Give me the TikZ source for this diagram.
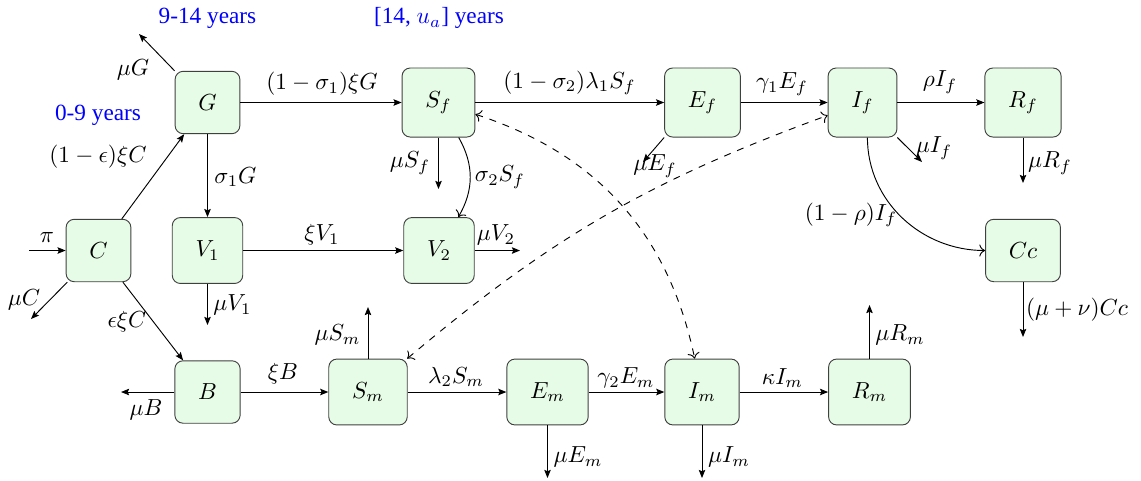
\documentclass[tikz,border=0pt]{standalone}
\usepackage[no-math]{fontspec}
\newfontfamily\timesf{Liberation Serif}
\usetikzlibrary{arrows.meta}
\definecolor{boxfill}{RGB}{230,252,230}
\begin{document}
\begin{tikzpicture}[x=0.43pt,y=-0.43pt,
  box/.style={draw=black!75, fill=boxfill, rounded corners=3.5pt, inner sep=10pt},
  arr/.style={-{Stealth[length=3.5pt,width=2.8pt,inset=0.6pt]}},
  curv/.style={->},
  dsh/.style={<->, dashed},
  lbl/.style={inner sep=0pt},
  age/.style={text=blue, font=\timesf, inner sep=0pt}]
\useasboundingbox (0,0) rectangle (1141,480);

% compartments
\node[box] (C)  at (98.5,250.5) {$C$};
\node[box] (G)  at (207.5,102.5) {$G$};
\node[box] (V1) at (207.5,250.5) {$V_1$};
\node[box] (B)  at (207.5,392) {$B$};
\node[box] (Sf) at (438.5,102.5) {$S_f$};
\node[box] (V2) at (439,250.5) {$V_2$};
\node[box] (Sm) at (368,392) {$S_m$};
\node[box] (Ef) at (702.5,102.5) {$E_f$};
\node[box] (Em) at (547.5,392) {$E_m$};
\node[box] (If) at (862.5,102.5) {$I_f$};
\node[box] (Im) at (702,392) {$I_m$};
\node[box] (Rf) at (1023,102.5) {$R_f$};
\node[box] (Cc) at (1023,250.5) {$Cc$};
\node[box] (Rm) at (869.5,392) {$R_m$};

% age groups
\node[age] (a09)  at (98,115) {0-9 years};
\node[age] (a914) at (207.5,18) {9-14 years};
\node[age] (a14)  at (439,18) {[14, $u_a$] years};

% free ends
\coordinate (piS)   at (29,250.5);
\coordinate (muCe)  at (31,319);
\coordinate (muGe)  at (139,34);
\coordinate (muV1e) at (207.5,325);
\coordinate (muSfe) at (438.5,189);
\coordinate (muV2e) at (520,250.5);
\coordinate (muEfe) at (643,162);
\coordinate (muIfe) at (922,162);
\coordinate (muRfe) at (1023,183);
\coordinate (muCce) at (1023,337);
\coordinate (muRme) at (869.5,305);
\coordinate (muEme) at (547.5,478);
\coordinate (muIme) at (702,478);
\coordinate (muSme) at (368,307);
\coordinate (muBe)  at (121,392);

% flows
\draw[arr] (piS) -- (C) node[lbl] (lpi) at (47,237) {$\pi$};
\draw[arr] (C) -- (muCe) node[lbl] (lmuC) at (24,300) {$\mu C$};
\draw[arr] (C) -- (G) node[lbl] (lCG) at (98,157) {$(1-\epsilon)\xi C$};
\draw[arr] (C) -- (B) node[lbl] (lCB) at (127,322) {$\epsilon\xi C$};
\draw[arr] (G.north west) -- (muGe) node[lbl] (lmuG) at (133,70) {$\mu G$};
\draw[arr] (G) -- (Sf) node[lbl] (lGSf) at (322,84) {$(1-\sigma_1)\xi G$};
\draw[arr] (G) -- (V1) node[lbl] (lGV1) at (235.5,177) {$\sigma_1 G$};
\draw[arr] (V1) -- (V2) node[lbl] (lV1V2) at (322,235) {$\xi V_1$};
\draw[arr] (V1) -- (muV1e) node[lbl] (lmuV1) at (232.5,305) {$\mu V_1$};
\draw[arr] (V2) -- (muV2e) node[lbl] (lmuV2) at (496,235) {$\mu V_2$};
\draw[arr] (Sf) -- (muSfe) node[lbl] (lmuSf) at (410,163) {$\mu S_f$};
\draw[curv] (Sf.-60) to[bend left=30] (V2.60);
\node[lbl] (lSfV2) at (500,177) {$\sigma_2 S_f$};
\draw[arr] (Sf) -- (Ef) node[lbl] (lSfEf) at (569.5,83) {$(1-\sigma_2)\lambda_1 S_f$};
\draw[arr] (Ef.south west) -- (muEfe) node[lbl] (lmuEf) at (655,166) {$\mu E_f$};
\draw[arr] (Ef) -- (If) node[lbl] (lEfIf) at (782,84) {$\gamma_1 E_f$};
\draw[arr] (If) -- (Rf) node[lbl] (lIfRf) at (940,82) {$\rho I_f$};
\draw[arr] (If.south east) -- (muIfe) node[lbl] (lmuIf) at (934,148) {$\mu I_f$};
\draw[arr] (Rf) -- (muRfe) node[lbl] (lmuRf) at (1050,163) {$\mu R_f$};
\draw[curv] (If.-82) to[out=-90,in=180] (Cc.west);
\node[lbl] (lIfCc) at (851,215) {$(1-\rho)I_f$};
\draw[arr] (Cc) -- (muCce) node[lbl] (lmuCc) at (1077,310) {$(\mu+\nu)Cc$};

\draw[arr] (B) -- (muBe) node[lbl] (lmuB) at (146,410) {$\mu B$};
\draw[arr] (B) -- (Sm) node[lbl] (lBSm) at (283,374) {$\xi B$};
\draw[arr] (Sm) -- (muSme) node[lbl] (lmuSm) at (337.5,335) {$\mu S_m$};
\draw[arr] (Sm) -- (Em) node[lbl] (lSmEm) at (456,377) {$\lambda_2 S_m$};
\draw[arr] (Em) -- (muEme) node[lbl] (lmuEm) at (578,457) {$\mu E_m$};
\draw[arr] (Em) -- (Im) node[lbl] (lEmIm) at (626,378) {$\gamma_2 E_m$};
\draw[arr] (Im) -- (muIme) node[lbl] (lmuIm) at (729,457) {$\mu I_m$};
\draw[arr] (Im) -- (Rm) node[lbl] (lImRm) at (782.5,378) {$\kappa I_m$};
\draw[arr] (Rm) -- (muRme) node[lbl] (lmuRm) at (900,335) {$\mu R_m$};

% infection links
\draw[dsh] (Sf) to[bend left=30] (Im);
\draw[dsh] (Sm) to[bend left=10] (If);
\end{tikzpicture}
\end{document}
